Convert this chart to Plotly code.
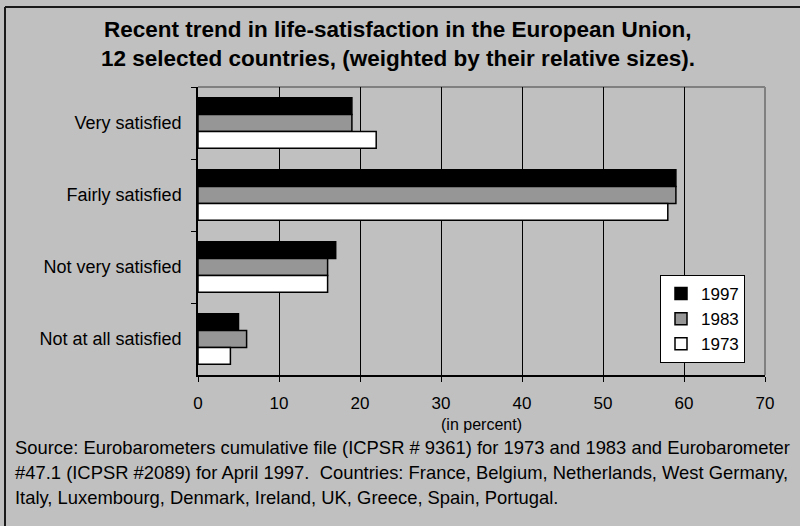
import plotly.graph_objects as go

categories = ["Very satisfied", "Fairly satisfied", "Not very satisfied", "Not at all satisfied"]
years = ["1997", "1983", "1973"]
values_1997 = [19, 59, 17, 5]
values_1983 = [19, 59, 16, 6]
values_1973 = [22, 58, 16, 4]
x_ticks = [0, 10, 20, 30, 40, 50, 60, 70]

title_lines = [
    "Recent trend in life-satisfaction in the European Union,",
    "12 selected countries, (weighted by their relative sizes).",
]
source_lines = [
    "Source: Eurobarometers cumulative file (ICPSR # 9361) for 1973 and 1983 and Eurobarometer",
    "#47.1 (ICPSR #2089) for April 1997.  Countries: France, Belgium, Netherlands, West Germany,",
    "Italy, Luxembourg, Denmark, Ireland, UK, Greece, Spain, Portugal.",
]

series = [values_1997, values_1983, values_1973]
fills = ["#000000", "#969696", "#ffffff"]

W, H = 800, 526
L, R, T, B = 198, 765, 87, 375

fig = go.Figure()
for name, vals, col in zip(years, series, fills):
    fig.add_trace(go.Bar(
        y=categories, x=vals, name=name, orientation="h",
        marker=dict(color=col, line=dict(color="#000000", width=1.5)),
    ))

def px(x):
    return (x - L) / (R - L)

def py(y):
    return (B - y) / (B - T)

font = "Liberation Sans, Arial, sans-serif"

annotations = []
for i, line in enumerate(title_lines):
    annotations.append(dict(
        text="<b>" + line + "</b>", xref="paper", yref="paper",
        x=px(398), y=py(30 + 28 * i), xanchor="center", yanchor="middle",
        showarrow=False, font=dict(size=22.5, family=font),
    ))
for i, line in enumerate(source_lines):
    annotations.append(dict(
        text=line, xref="paper", yref="paper",
        x=px(13), y=py(447 + 25 * i), xanchor="left", yanchor="middle",
        showarrow=False, font=dict(size=18.4, family=font),
    ))

fig.update_layout(
    width=W, height=H,
    margin=dict(l=L, r=W - R, t=T, b=H - B),
    paper_bgcolor="#c0c0c0", plot_bgcolor="#c0c0c0",
    font=dict(family=font, size=17, color="#000000"),
    barmode="group", bargap=0.3, bargroupgap=0,
    xaxis=dict(
        range=[0, 70], tickvals=x_ticks, showgrid=True, gridcolor="#000000", gridwidth=1,
        zeroline=False, showline=True, linecolor="#000000", linewidth=1.5,
        ticks="outside", ticklen=5, tickcolor="#000000", ticklabelstandoff=7,
        title=dict(text="(in percent)", standoff=7, font=dict(size=16)),
        fixedrange=True,
    ),
    yaxis=dict(
        type="category", autorange="reversed", tickson="boundaries",
        ticks="outside", ticklen=5, tickcolor="#000000",
        showgrid=False, showline=True, linecolor="#000000", linewidth=1.5,
        ticklabelstandoff=11, tickfont=dict(size=18), fixedrange=True,
    ),
    legend=dict(
        x=px(660), y=py(275), xanchor="left", yanchor="top",
        bgcolor="#ffffff", bordercolor="#000000", borderwidth=1,
        font=dict(size=17), traceorder="normal",
        itemwidth=30, tracegroupgap=0,
    ),
    shapes=[
        # grey plot-area border along top and right
        dict(type="line", xref="paper", yref="paper", x0=0, x1=1, y0=1, y1=1,
             line=dict(color="#808080", width=2), layer="below"),
        dict(type="line", xref="paper", yref="paper", x0=1, x1=1, y0=0, y1=1,
             line=dict(color="#808080", width=2), layer="below"),
        # outer chart frame
        dict(type="line", xref="paper", yref="paper", x0=px(5), x1=px(800), y0=py(7), y1=py(7),
             line=dict(color="#1a1a1a", width=2)),
        dict(type="line", xref="paper", yref="paper", x0=px(5), x1=px(5), y0=py(7), y1=py(526),
             line=dict(color="#1a1a1a", width=2)),
    ],
    annotations=annotations,
)

fig.write_html("out.html")
